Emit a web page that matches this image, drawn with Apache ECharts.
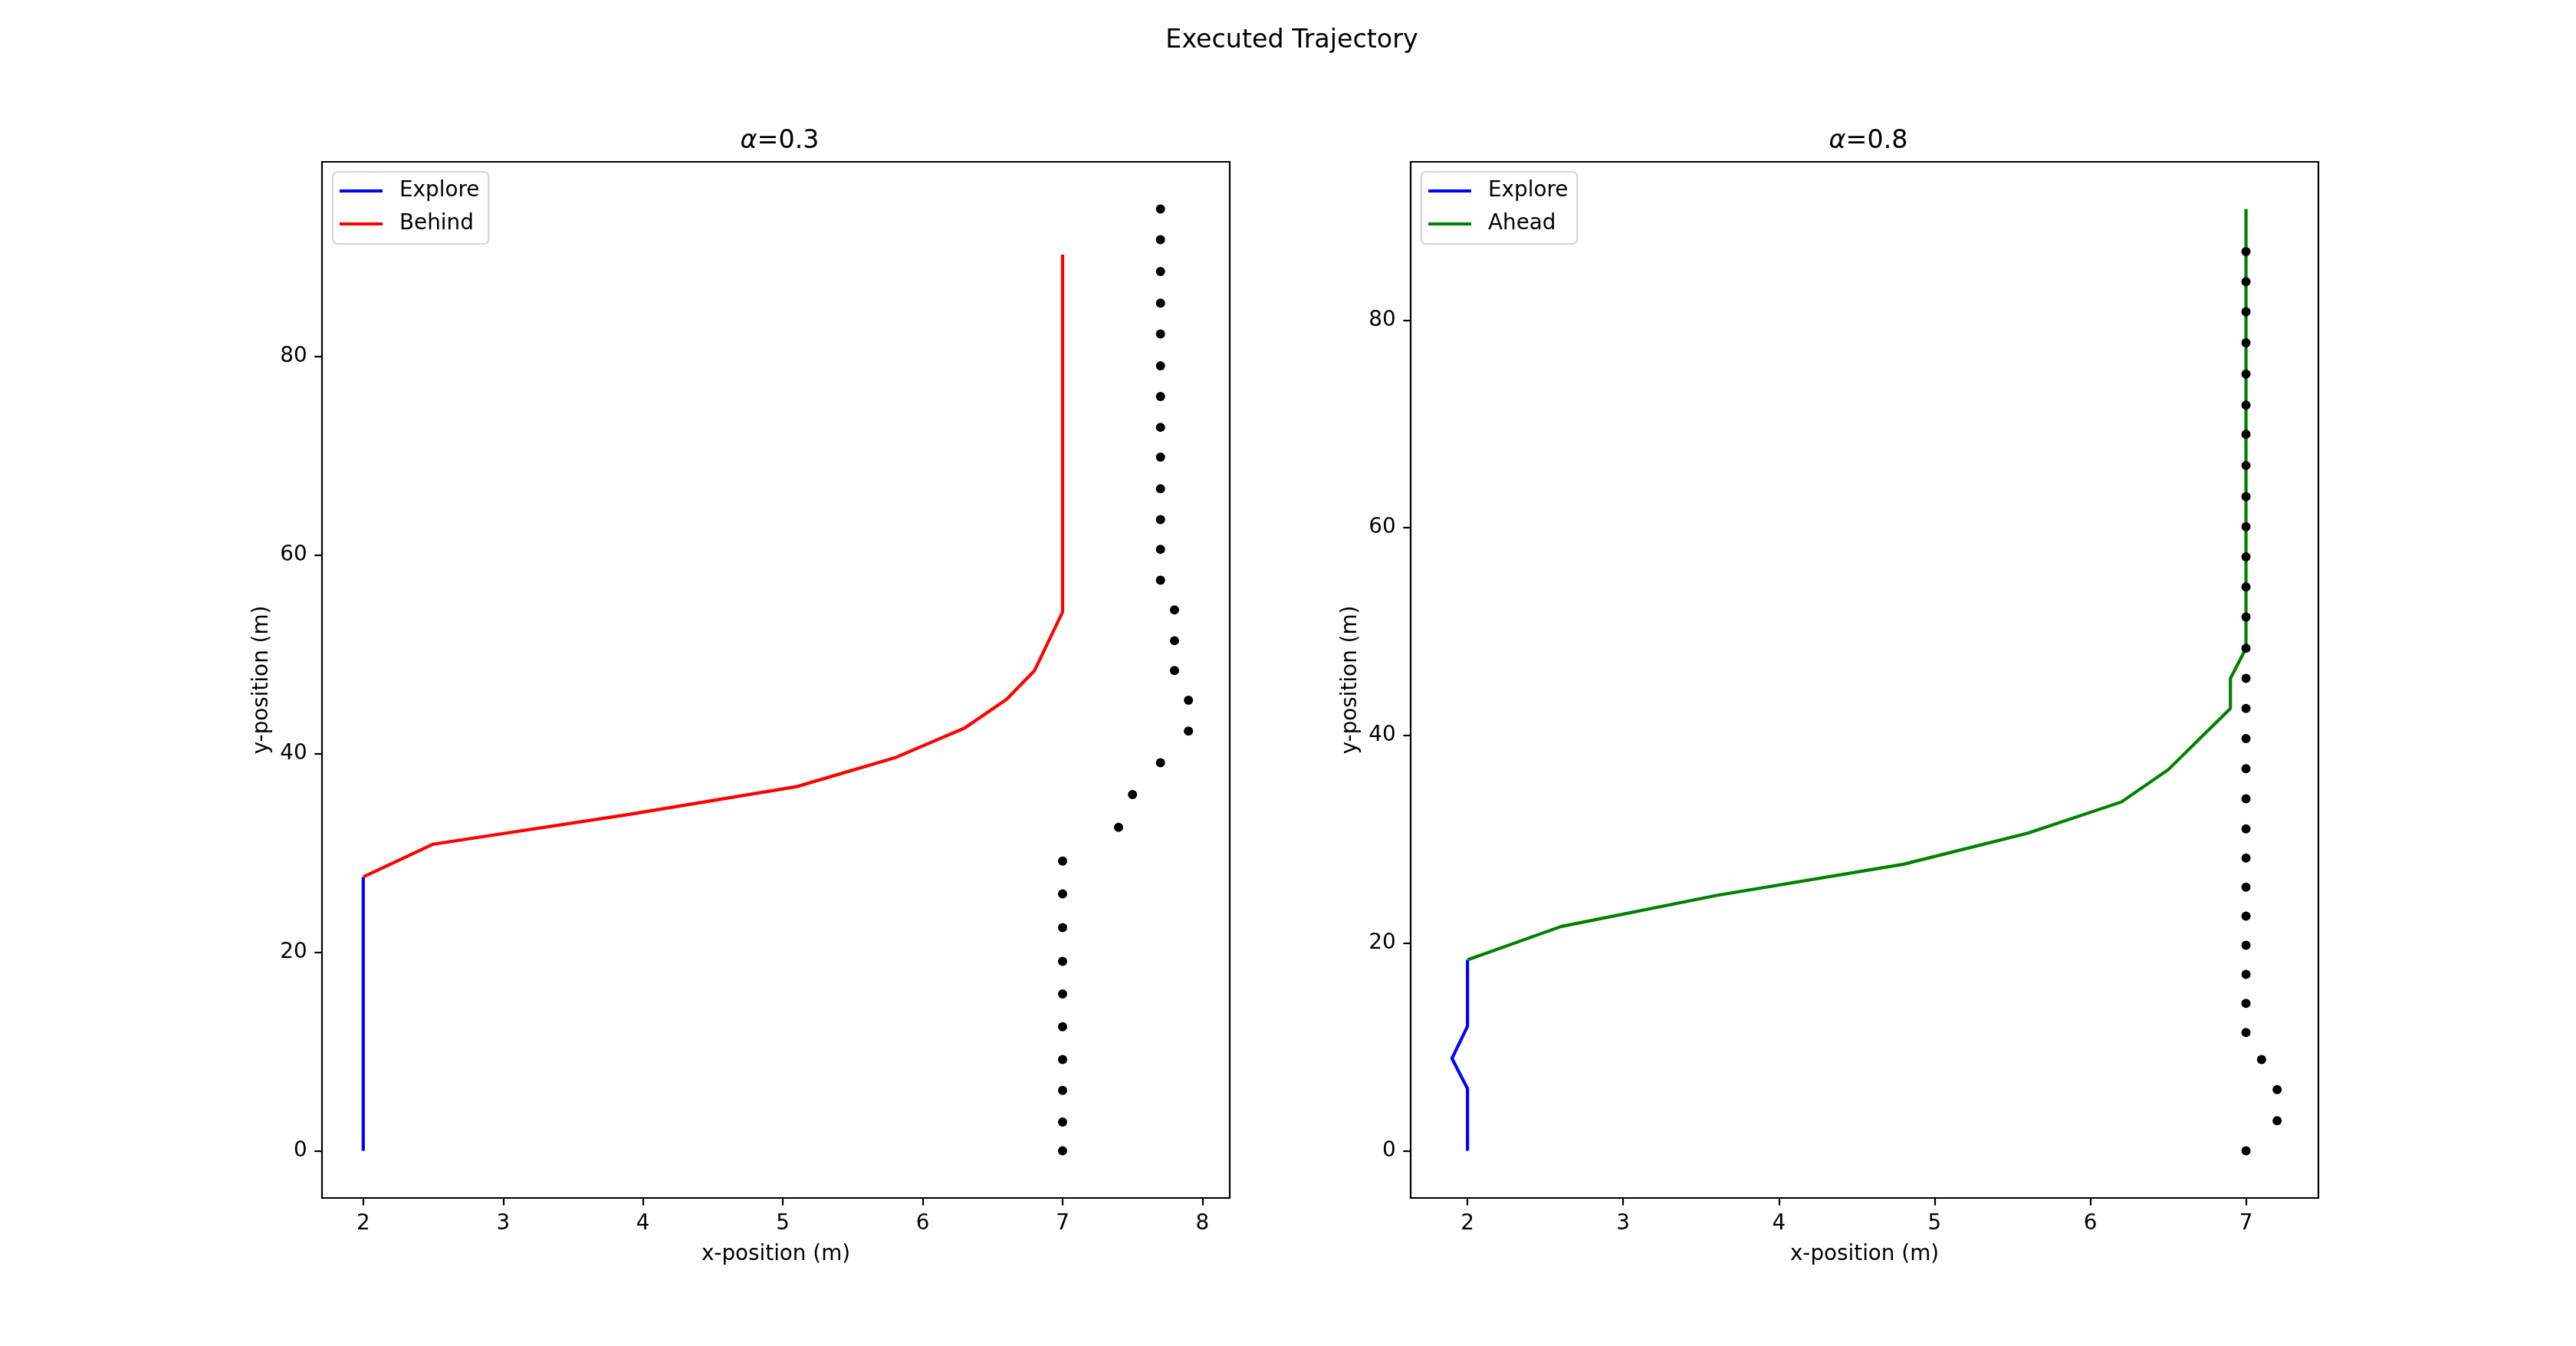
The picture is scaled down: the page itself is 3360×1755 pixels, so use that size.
<!DOCTYPE html>
<html>
<head>
<meta charset="utf-8">
<script src="https://cdn.jsdelivr.net/npm/echarts@6/dist/echarts.min.js"></script>
<style>
  html, body { margin: 0; padding: 0; background: #fff; }
  #traj { width: 3360px; height: 1755px; }
</style>
</head>
<body>
<div id="traj"></div>
<script>
// values (metres)
var leftExploreX = [2, 2];
var leftExploreY = [0, 27.6];
var leftBehindX = [2, 2.5, 3.9, 5.1, 5.8, 6.3, 6.6, 6.8, 7.0, 7.0];
var leftBehindY = [27.6, 30.9, 33.9, 36.7, 39.6, 42.6, 45.5, 48.4, 54.3, 90.3];
var leftDotsX = [7, 7, 7, 7, 7, 7, 7, 7, 7, 7,
  7.4, 7.5, 7.7, 7.9, 7.9, 7.8, 7.8, 7.8,
  7.7, 7.7, 7.7, 7.7, 7.7, 7.7, 7.7, 7.7, 7.7, 7.7, 7.7, 7.7, 7.7];
var leftDotsY = [0, 2.9, 6.1, 9.2, 12.5, 15.8, 19.1, 22.5, 25.9, 29.2,
  32.6, 35.9, 39.1, 42.3, 45.4, 48.4, 51.4, 54.5,
  57.5, 60.6, 63.6, 66.7, 69.9, 72.9, 76.0, 79.1, 82.3, 85.4, 88.6, 91.8, 94.9];

var rightExploreX = [2, 2, 1.9, 2, 2];
var rightExploreY = [0, 6.0, 8.9, 12.0, 18.4];
var rightAheadX = [2, 2.6, 3.6, 4.8, 5.6, 6.2, 6.5, 6.9, 6.9, 7.0, 7.0];
var rightAheadY = [18.4, 21.6, 24.6, 27.6, 30.6, 33.6, 36.7, 42.6, 45.5, 48.4, 90.7];
var rightDotsX = [7, 7.2, 7.2, 7.1,
  7, 7, 7, 7, 7, 7, 7, 7, 7, 7, 7, 7, 7, 7, 7, 7, 7, 7, 7, 7, 7, 7, 7, 7, 7, 7, 7];
var rightDotsY = [0, 2.9, 5.9, 8.8,
  11.4, 14.2, 17.0, 19.8, 22.6, 25.4, 28.2, 31.0, 33.9, 36.8, 39.7, 42.6, 45.5,
  48.4, 51.4, 54.3, 57.2, 60.1, 63.0, 66.0, 69.0, 71.8, 74.8, 77.8, 80.8, 83.7, 86.6];

var leftXTicks = [2, 3, 4, 5, 6, 7, 8];
var rightXTicks = [2, 3, 4, 5, 6, 7];
var yTicks = [0, 20, 40, 60, 80];

var titles = ['Executed Trajectory', '0.3', '0.8'];

(function() {
  var chart = echarts.init(document.getElementById('traj'), null, { renderer: 'canvas' });
  var FONT = 'DejaVu Sans';

  function pairs(xs, ys) {
    var out = [];
    for (var i = 0; i < xs.length; i++) out.push([xs[i], ys[i]]);
    return out;
  }
  // matplotlib style 5% margins around the data
  function padded(arrs) {
    var all = [].concat.apply([], arrs);
    var lo = Math.min.apply(null, all), hi = Math.max.apply(null, all);
    var m = (hi - lo) * 0.05;
    return [lo - m, hi + m];
  }

  var lxr = padded([leftExploreX, leftBehindX, leftDotsX]);
  var lyr = padded([leftExploreY, leftBehindY, leftDotsY]);
  var rxr = padded([rightExploreX, rightAheadX, rightDotsX]);
  var ryr = padded([rightExploreY, rightAheadY, rightDotsY]);

  function xAxis(idx, range, ticks) {
    return {
      type: 'value', gridIndex: idx, min: range[0], max: range[1],
      name: 'x-position (m)', nameLocation: 'middle', nameGap: 60,
      nameTextStyle: { fontFamily: FONT, fontSize: 27.8, color: '#000' },
      axisLine: { show: false, onZero: false },
      axisTick: { show: true, inside: false, length: 9.7, customValues: ticks,
        lineStyle: { color: '#000', width: 2.2 } },
      axisLabel: { show: true, margin: 19.4, customValues: ticks,
        fontFamily: FONT, fontSize: 27.8, color: '#000' },
      splitLine: { show: false }
    };
  }
  function yAxis(idx, range) {
    return {
      type: 'value', gridIndex: idx, min: range[0], max: range[1],
      name: 'y-position (m)', nameLocation: 'middle', nameGap: 64,
      nameTextStyle: { fontFamily: FONT, fontSize: 27.8, color: '#000' },
      axisLine: { show: false, onZero: false },
      axisTick: { show: true, inside: false, length: 9.7, customValues: yTicks,
        lineStyle: { color: '#000', width: 2.2 } },
      axisLabel: { show: true, margin: 19.4, customValues: yTicks,
        fontFamily: FONT, fontSize: 27.8, color: '#000' },
      splitLine: { show: false }
    };
  }
  function lineSeries(name, idx, xs, ys, color) {
    return {
      type: 'line', name: name, xAxisIndex: idx, yAxisIndex: idx,
      data: pairs(xs, ys), showSymbol: false, symbol: 'none', animation: false,
      lineStyle: { color: color, width: 4.17 }, itemStyle: { color: color }, z: 2
    };
  }
  function dots(idx, xs, ys) {
    return {
      type: 'scatter', xAxisIndex: idx, yAxisIndex: idx,
      data: pairs(xs, ys), symbol: 'circle', symbolSize: 12, animation: false,
      itemStyle: { color: '#000', opacity: 1 }, z: 3
    };
  }
  function legend(left, names) {
    return {
      orient: 'vertical', left: left, top: 224,
      data: names, icon: 'rect', itemWidth: 56, itemHeight: 4.2, itemGap: 15,
      padding: [11, 12, 12, 9],
      backgroundColor: 'rgba(255,255,255,0.8)',
      borderColor: '#d5d5d5', borderWidth: 2.2, borderRadius: 6,
      textStyle: { fontFamily: FONT, fontSize: 27.8, color: '#000',
        lineHeight: 28, padding: [0, 0, 0, 17] },
      selectedMode: false
    };
  }
  function subTitle(cx, val) {
    return {
      text: '{a|α}=' + val, left: cx, top: 163, textAlign: 'center',
      textStyle: { fontFamily: FONT, fontSize: 33.3, fontWeight: 'normal', color: '#000',
        rich: { a: { fontFamily: FONT, fontSize: 33.3, fontStyle: 'italic', color: '#000' } } }
    };
  }

  var gridStyle = { show: true, borderColor: '#000', borderWidth: 2.2,
    backgroundColor: 'transparent', containLabel: false };

  var option = {
    backgroundColor: '#fff',
    animation: false,
    title: [
      { text: titles[0], left: 1680, top: 32, textAlign: 'center',
        textStyle: { fontFamily: FONT, fontSize: 33.3, fontWeight: 'normal', color: '#000' } },
      subTitle(1012, titles[1]),
      subTitle(2432, titles[2])
    ],
    legend: [legend(434, ['Explore', 'Behind']), legend(1854, ['Explore', 'Ahead'])],
    grid: [
      Object.assign({ left: 420, top: 211, width: 1184, height: 1351 }, gridStyle),
      Object.assign({ left: 1840, top: 211, width: 1184, height: 1351 }, gridStyle)
    ],
    xAxis: [xAxis(0, lxr, leftXTicks), xAxis(1, rxr, rightXTicks)],
    yAxis: [yAxis(0, lyr), yAxis(1, ryr)],
    series: [
      lineSeries('Explore', 0, leftExploreX, leftExploreY, '#0000ff'),
      lineSeries('Behind', 0, leftBehindX, leftBehindY, '#ff0000'),
      dots(0, leftDotsX, leftDotsY),
      lineSeries('Explore', 1, rightExploreX, rightExploreY, '#0000ff'),
      lineSeries('Ahead', 1, rightAheadX, rightAheadY, '#008000'),
      dots(1, rightDotsX, rightDotsY)
    ]
  };

  chart.setOption(option);
})();
</script>
</body>
</html>
